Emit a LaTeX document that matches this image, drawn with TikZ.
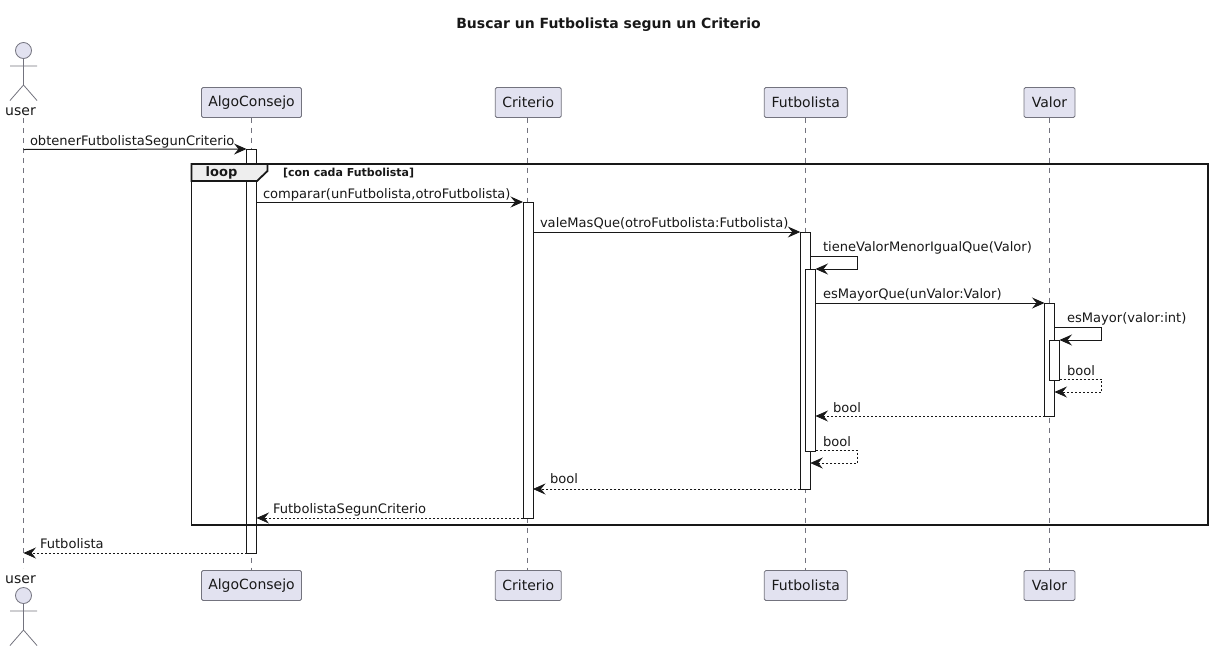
\documentclass[tikz,border=0pt]{standalone}
\usepackage{fontspec}
\setmainfont{DejaVu Sans}
\usetikzlibrary{arrows.meta}
\definecolor{ink}{HTML}{181818}
\definecolor{partfill}{HTML}{E2E2F0}
\definecolor{partline}{HTML}{73737E}
\definecolor{tabfill}{HTML}{EEEEEE}
\tikzset{
  x=1pt,y=-1pt,
  every node/.style={inner sep=0pt,outer sep=0pt,text=ink},
  head/.style={draw=partline,fill=partfill,rounded corners=1.5,line width=0.8pt,minimum height=30pt,font=\fontsize{14}{16}\selectfont,anchor=center},
  life/.style={draw=partline,line width=0.7pt,dash pattern=on 5pt off 5pt},
  actbox/.style={draw=ink,fill=white,line width=1pt,anchor=north,minimum width=10pt},
  actor/.style={draw=partline,line width=0.8pt},
  actorhead/.style={draw=partline,fill=partfill,line width=0.8pt,circle,minimum size=16pt},
  actorname/.style={font=\fontsize{14}{16}\selectfont,anchor=base},
  tip/.style={-{Stealth[length=12.5pt,width=11pt,inset=4.5pt,fill=ink]}},
  msg/.style={draw=ink,line width=1pt,tip},
  ret/.style={draw=ink,line width=0.7pt,dash pattern=on 2pt off 2pt,tip},
  lbl/.style={font=\fontsize{13.07}{15}\selectfont,anchor=base west},
  frameline/.style={draw=ink,line width=1.8pt},
}
\begin{document}
\begin{tikzpicture}
\useasboundingbox (0,0) rectangle (1212,651);
\node[font=\bfseries\fontsize{14}{16}\selectfont,anchor=base] (title) at (608.5,28) {Buscar un Futbolista segun un Criterio};

% top participants
\node[actorhead] (uT) at (23.5,50.5) {};
\coordinate (uThip) at (23.5,85);
\coordinate (uTla) at (10,66);
\coordinate (uTra) at (37,66);
\coordinate (uTll) at (10,100.5);
\coordinate (uTrl) at (37,100.5);
\coordinate (uTend) at (23.5,118);
\draw[actor] (uT.south) -- (uThip) (uTla) -- (uTra) (uTll) -- (uThip) -- (uTrl);
\node[actorname] (userT) at (20.5,115) {user};
\node[head,minimum width=100pt] (aT) at (251.5,102.5) {AlgoConsejo};
\node[head,minimum width=66pt] (cT) at (528.3,102.5) {Criterio};
\node[head,minimum width=83pt] (fT) at (805.8,102.5) {Futbolista};
\node[head,minimum width=51pt] (vT) at (1049.5,102.5) {Valor};

% bottom participants
\node[actorname] (userB) at (20.5,583) {user};
\node[actorhead] (uB) at (23.5,595.5) {};
\coordinate (uBhip) at (23.5,630);
\coordinate (uBla) at (10,611);
\coordinate (uBra) at (37,611);
\coordinate (uBll) at (10,645.5);
\coordinate (uBrl) at (37,645.5);
\coordinate (uBend) at (23.5,568);
\draw[actor] (uB.south) -- (uBhip) (uBla) -- (uBra) (uBll) -- (uBhip) -- (uBrl);
\node[head,minimum width=100pt] (aB) at (251.5,585.5) {AlgoConsejo};
\node[head,minimum width=66pt] (cB) at (528.3,585.5) {Criterio};
\node[head,minimum width=83pt] (fB) at (805.8,585.5) {Futbolista};
\node[head,minimum width=51pt] (vB) at (1049.5,585.5) {Valor};

% lifelines
\draw[life] (uTend) -- (uBend);
\draw[life] (aT) -- (aB);
\draw[life] ([xshift=-.8pt]cT.south) -- ([xshift=-.8pt]cB.north);
\draw[life] ([xshift=-.5pt]fT.south) -- ([xshift=-.5pt]fB.north);
\draw[life] (vT) -- (vB);

% activations
\node[actbox,minimum height=404pt] (a1) at (251.5,149) {};
\node[actbox,minimum height=316pt] (c1) at (528,202) {};
\node[actbox,minimum height=257pt] (f1) at (805.3,232) {};
\node[actbox,minimum height=182pt] (f2) at (810.5,269) {};
\node[actbox,minimum height=113pt] (v1) at (1049.5,303) {};
\node[actbox,minimum height=40pt] (v2) at (1054.5,340) {};

% loop frame
\node[frameline,minimum width=1016.5pt,minimum height=361pt,anchor=north west] (loopf) at (191.5,164) {};
\draw[frameline,fill=tabfill] (191.5,164) -- (267.5,164) -- (267.5,171) -- (257,181) -- (191.5,181) -- cycle;
\node[font=\bfseries\fontsize{13}{15}\selectfont] (loopl) at (221.5,173) {loop};
\node[font=\bfseries\fontsize{11}{13}\selectfont,anchor=west] (guard) at (283,173) {[con cada Futbolista]};

% message end points
\coordinate (m1s) at (23.5,149.5);
\coordinate (m8e) at (23.5,553);
\coordinate (fs1) at (857.5,256.5);
\coordinate (fs2) at (857.5,269);
\coordinate (vs1) at (1101.5,327);
\coordinate (vs2) at (1101.5,340);
\coordinate (vr1) at (1101.5,379);
\coordinate (vr2) at (1101.5,392);
\coordinate (fr1) at (857.5,450.5);
\coordinate (fr2) at (857.5,463);

% messages
\draw[msg] (m1s) -- (a1.north west);
\node[lbl] (t1) at (30,145) {obtenerFutbolistaSegunCriterio};
\draw[msg] (a1.east |- c1.north) -- (c1.north west);
\node[lbl] (t2) at (263,198) {comparar(unFutbolista,otroFutbolista)};
\draw[msg] (c1.east |- f1.north) -- (f1.north west);
\node[lbl] (t3) at (540,227) {valeMasQue(otroFutbolista:Futbolista)};
\draw[msg] (f1.east |- fs1) -- (fs1) -- (fs2) -- (f2.north east);
\node[lbl] (t4) at (823,251) {tieneValorMenorIgualQue(Valor)};
\draw[msg] (f2.east |- v1.north) -- (v1.north west);
\node[lbl] (t5) at (823,298) {esMayorQue(unValor:Valor)};
\draw[msg] (v1.east |- vs1) -- (vs1) -- (vs2) -- (v2.north east);
\node[lbl] (t6) at (1067,322) {esMayor(valor:int)};
\draw[ret] (v2.east |- vr1) -- (vr1) -- (vr2) -- (v1.east |- vr2);
\node[lbl] (t7) at (1067,375) {bool};
\draw[ret] (v1.south west) -- (f2.east |- v1.south);
\node[lbl] (t8) at (833,412) {bool};
\draw[ret] (f2.east |- fr1) -- (fr1) -- (fr2) -- (f1.east |- fr2);
\node[lbl] (t9) at (823,446) {bool};
\draw[ret] (f1.south west) -- (c1.east |- f1.south);
\node[lbl] (t10) at (550,483) {bool};
\draw[ret] (c1.south west) -- (a1.east |- c1.south);
\node[lbl] (t11) at (273,513) {FutbolistaSegunCriterio};
\draw[ret] (a1.south west) -- (m8e);
\node[lbl] (t12) at (40,548) {Futbolista};
\end{tikzpicture}
\end{document}
